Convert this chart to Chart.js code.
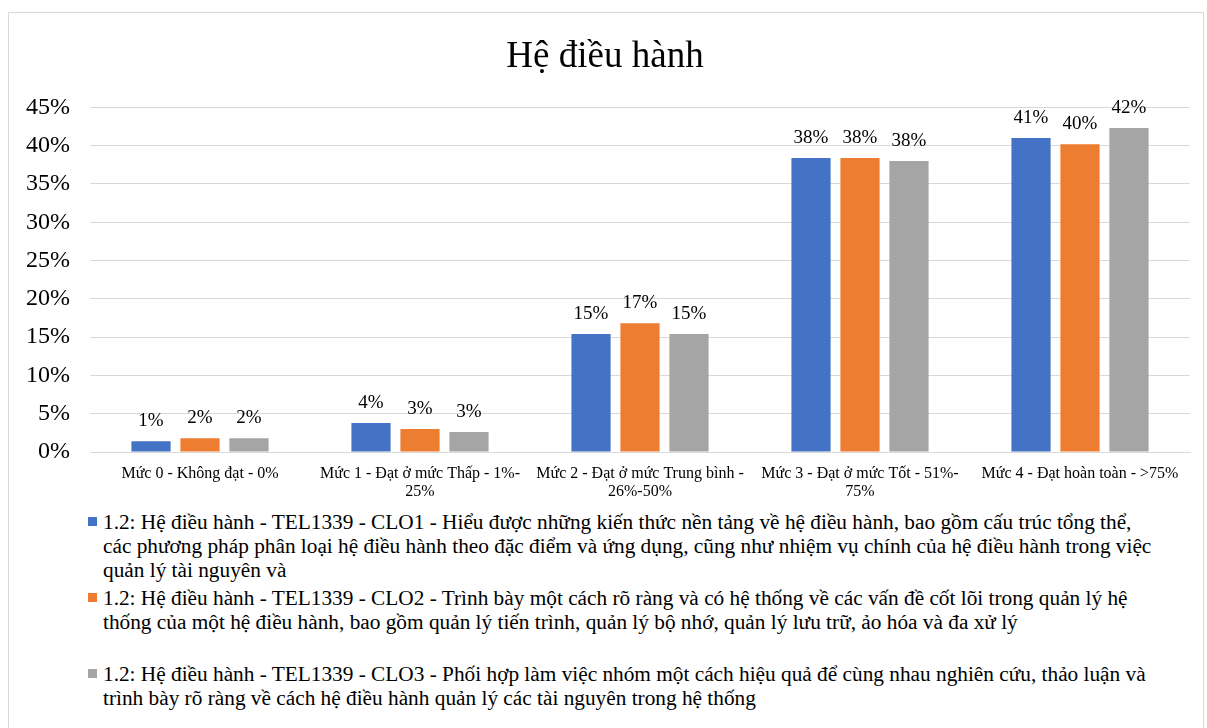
<!DOCTYPE html>
<html>
<head>
<meta charset="utf-8">
<script src="https://cdn.jsdelivr.net/npm/chart.js@4"></script>
<style>
  html, body { margin: 0; padding: 0; background: #fff; }
  body { width: 1207px; height: 728px; position: relative; overflow: hidden; font-family: "Liberation Serif", "Times New Roman", serif; }
  .frame { position: absolute; left: 8px; top: 12px; width: 1194px; height: 730px; border: 1px solid #d9d9d9; }
  .chart-box { position: absolute; left: 0; top: 0; width: 1207px; height: 510px; }
  .legend { position: absolute; left: 88px; top: 510px; width: 1110px; font-size: 21.3px; line-height: 24px; color: #000; }
  .legend-item { position: relative; padding-left: 15px; margin-bottom: 4px; white-space: pre; }
  .legend-item .swatch { position: absolute; left: 0; top: 7px; width: 9px; height: 9px; }
  .legend-item.tall { min-height: 72px; }
</style>
</head>
<body>
<div class="frame"></div>
<div class="chart-box"><canvas id="chart"></canvas></div>
<div class="legend" id="legend"></div>
<script>
// Categories (x axis labels, line-broken as in the original)
const categories = [
  'Mức 0 - Không đạt - 0%',
  ['Mức 1 - Đạt ở mức Thấp - 1%-', '25%'],
  ['Mức 2 - Đạt ở mức Trung bình -', '26%-50%'],
  ['Mức 3 - Đạt ở mức Tốt - 51%-', '75%'],
  'Mức 4 - Đạt hoàn toàn - >75%'
];

// Series values (percent)
const clo1 = [1.4, 3.8, 15.4, 38.4, 41.0];
const clo2 = [1.8, 3.0, 16.8, 38.4, 40.2];
const clo3 = [1.8, 2.6, 15.4, 38.0, 42.3];

// Series names, with the line breaks the original legend shows
const seriesNames = [
  '1.2: Hệ điều hành - TEL1339 - CLO1 - Hiểu được những kiến thức nền tảng về hệ điều hành, bao gồm cấu trúc tổng thể,\ncác phương pháp phân loại hệ điều hành theo đặc điểm và ứng dụng, cũng như nhiệm vụ chính của hệ điều hành trong việc\nquản lý tài nguyên và',
  '1.2: Hệ điều hành - TEL1339 - CLO2 - Trình bày một cách rõ ràng và có hệ thống về các vấn đề cốt lõi trong quản lý hệ\nthống của một hệ điều hành, bao gồm quản lý tiến trình, quản lý bộ nhớ, quản lý lưu trữ, ảo hóa và đa xử lý',
  '1.2: Hệ điều hành - TEL1339 - CLO3 - Phối hợp làm việc nhóm một cách hiệu quả để cùng nhau nghiên cứu, thảo luận và\ntrình bày rõ ràng về cách hệ điều hành quản lý các tài nguyên trong hệ thống'
];
const seriesColors = ['#4472C4', '#ED7D31', '#A5A5A5'];

// Y axis ticks
const yMax = 45;
const yStep = 5;

const FONT = '"Liberation Serif", "Times New Roman", serif';

// Draw value labels above each bar
const barLabels = {
  id: 'barLabels',
  afterDatasetsDraw(chart) {
    const ctx = chart.ctx;
    ctx.save();
    ctx.font = '19px ' + FONT;
    ctx.fillStyle = '#000';
    ctx.textAlign = 'center';
    ctx.textBaseline = 'alphabetic';
    chart.data.datasets.forEach(function(ds, i) {
      const meta = chart.getDatasetMeta(i);
      meta.data.forEach(function(bar, j) {
        ctx.fillText(Math.round(ds.data[j]) + '%', bar.x, bar.y - 15);
      });
    });
    ctx.restore();
  }
};

const data = [clo1, clo2, clo3];

new Chart(document.getElementById('chart'), {
  type: 'bar',
  data: {
    labels: categories,
    datasets: data.map(function(values, i) {
      return {
        label: seriesNames[i],
        data: values,
        backgroundColor: seriesColors[i],
        categoryPercentage: 0.668,
        barPercentage: 0.8
      };
    })
  },
  options: {
    responsive: true,
    maintainAspectRatio: false,
    animation: false,
    layout: { padding: { left: 20, right: 17, top: 0, bottom: 0 } },
    plugins: {
      legend: { display: false },
      tooltip: { enabled: false },
      title: {
        display: true,
        text: 'Hệ điều hành',
        color: '#000',
        font: { family: FONT, size: 37, weight: 'normal' },
        padding: { top: 35, bottom: 28 }
      }
    },
    scales: {
      x: {
        grid: { display: false },
        border: { display: true, color: '#d9d9d9' },
        ticks: {
          color: '#000',
          font: { family: FONT, size: 16, lineHeight: 1.1 },
          padding: 5,
          maxRotation: 0,
          autoSkip: false
        },
        afterFit: function(scale) { scale.height = 58; }
      },
      y: {
        min: 0,
        max: yMax,
        grid: { color: '#d9d9d9', drawTicks: false },
        border: { display: false },
        ticks: {
          stepSize: yStep,
          color: '#000',
          padding: 20,
          font: { family: FONT, size: 24 },
          callback: function(v) { return v + '%'; }
        },
        afterFit: function(scale) { scale.width = 70; }
      }
    }
  },
  plugins: [barLabels]
});

// HTML legend (long series names)
const legend = document.getElementById('legend');
seriesNames.forEach(function(name, i) {
  const item = document.createElement('div');
  item.className = 'legend-item' + (i === 1 ? ' tall' : '');
  const sw = document.createElement('span');
  sw.className = 'swatch';
  sw.style.background = seriesColors[i];
  item.appendChild(sw);
  item.appendChild(document.createTextNode(name));
  legend.appendChild(item);
});
</script>
</body>
</html>
